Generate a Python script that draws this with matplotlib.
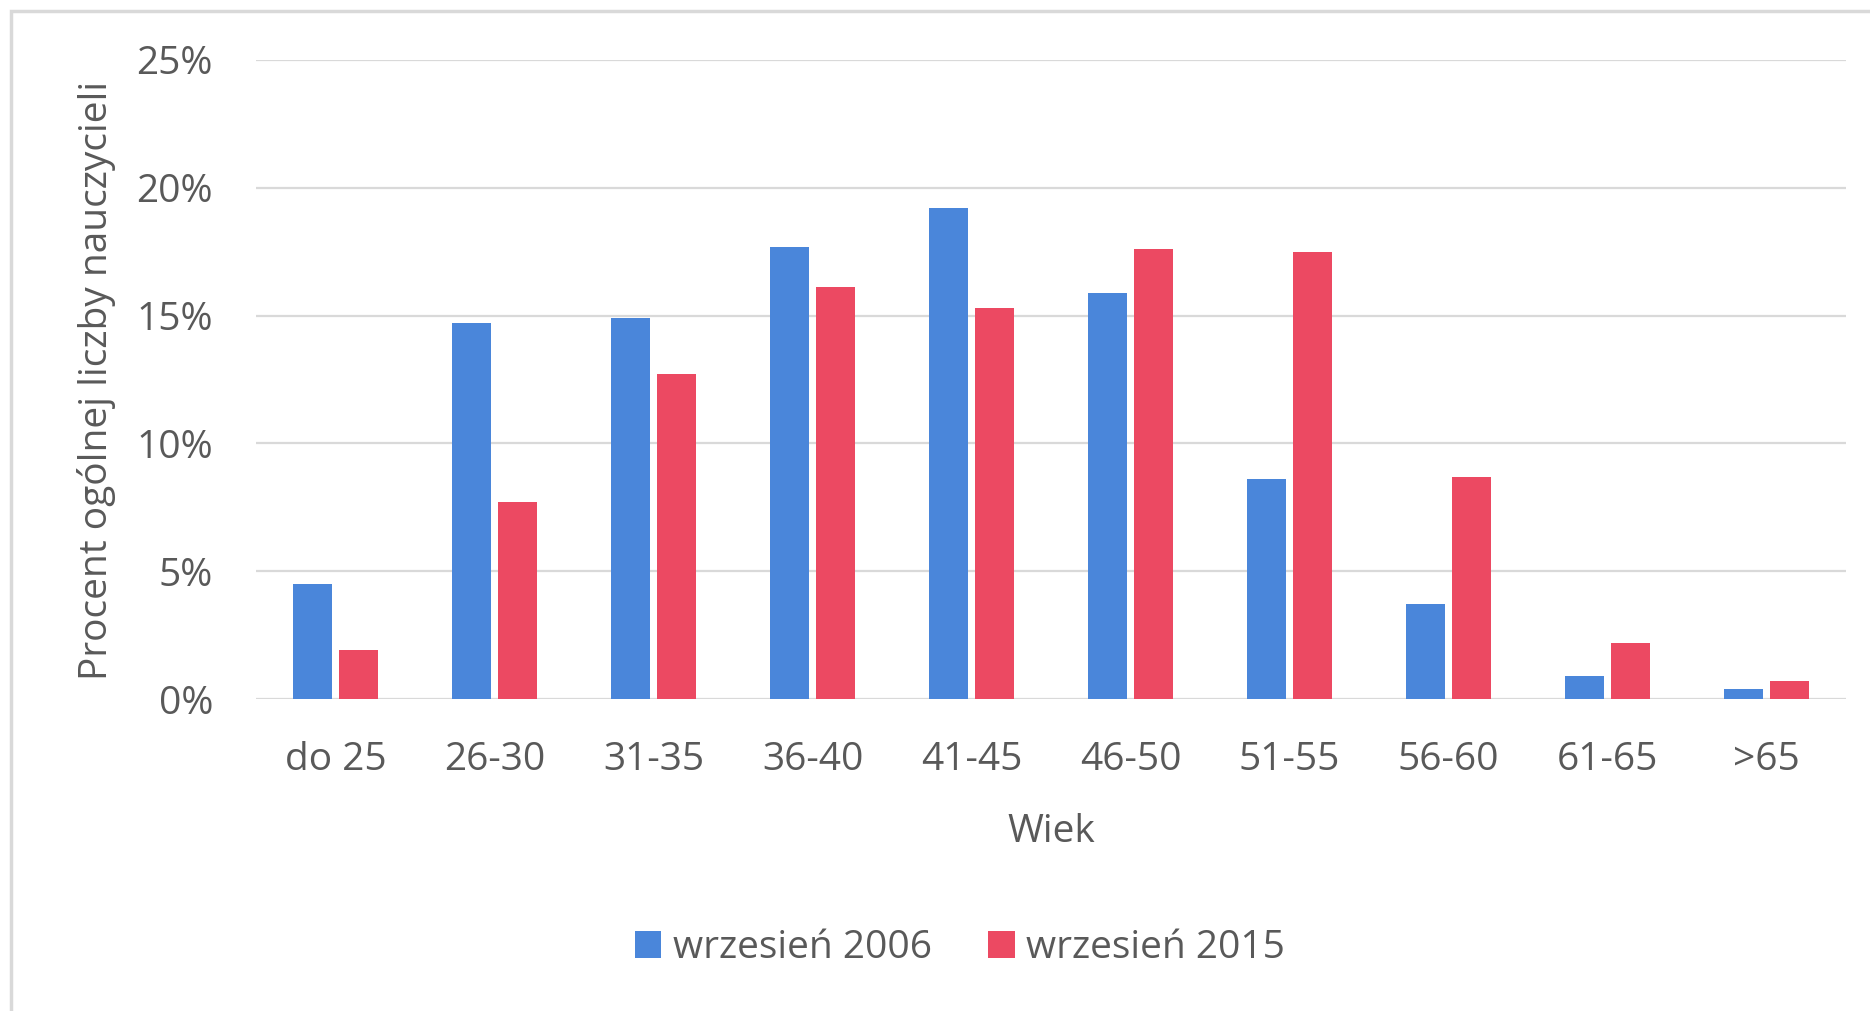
import numpy as np
import matplotlib
matplotlib.use('Agg')
import matplotlib.pyplot as plt
from matplotlib.patches import Rectangle

# dane: procent ogolnej liczby nauczycieli wg wieku
kategorie = ['do 25', '26-30', '31-35', '36-40', '41-45', '46-50', '51-55', '56-60', '61-65', '>65']
wrzesien_2006 = [4.5, 14.7, 14.9, 17.7, 19.2, 15.9, 8.6, 3.7, 0.9, 0.4]
wrzesien_2015 = [1.9, 7.7, 12.7, 16.1, 15.3, 17.6, 17.5, 8.7, 2.2, 0.7]
serie = ['wrzesień 2006', 'wrzesień 2015']
yticks = [0, 5, 10, 15, 20, 25]

NIEBIESKI = '#4a86da'
CZERWONY = '#ec4962'
SZARY = '#595959'

plt.rcParams['font.family'] = ['Open Sans', 'DejaVu Sans']
plt.rcParams['font.size'] = 28
plt.rcParams['text.color'] = SZARY

W, H = 1870, 1011
fig = plt.figure(figsize=(W / 100, H / 100), dpi=100)

# ramka wokol wykresu (tylko lewa i gorna krawedz widoczna)
fig.patches.append(Rectangle((11 / W, -0.1), 1.2, 1 - 11 / H + 0.1, transform=fig.transFigure,
                             fill=False, edgecolor='#d9d9d9', linewidth=2.5))

ax = fig.add_axes([256 / W, 1 - 699 / H, (1846 - 256) / W, (699 - 60) / H])

x = np.arange(len(kategorie))
szer = 0.25
ax.bar(x - 0.145, wrzesien_2006, szer, color=NIEBIESKI, label=serie[0], zorder=3)
ax.bar(x + 0.145, wrzesien_2015, szer, color=CZERWONY, label=serie[1], zorder=3)

ax.set_xlim(-0.5, len(kategorie) - 0.5)
ax.set_ylim(0, 25)
ax.set_yticks(yticks)
ax.set_yticklabels([f'{v}%' for v in yticks])
ax.set_xticks(x)
ax.set_xticklabels(kategorie)
ax.tick_params(axis='both', length=0, colors=SZARY, labelsize=28)
ax.tick_params(axis='y', pad=31)
ax.tick_params(axis='x', pad=30)

ax.yaxis.grid(True, color='#d9d9d9', linewidth=1.6, zorder=0)
ax.set_axisbelow(True)
for s in ax.spines.values():
    s.set_visible(False)

ax.set_xlabel('Wiek', fontsize=28, color=SZARY, labelpad=25)
fig.text(97 / W, 1 - 380 / H, 'Procent ogólnej liczby nauczycieli', rotation=90,
         ha='center', va='center', fontsize=28, color=SZARY)

fig.legend(loc='center', bbox_to_anchor=(960 / W, 1 - 948 / H), ncol=2, frameon=False,
           fontsize=28, handlelength=0.68, handleheight=0.68, handletextpad=0.3,
           columnspacing=1.45, labelcolor=SZARY)

fig.savefig('out.png', dpi=100)
